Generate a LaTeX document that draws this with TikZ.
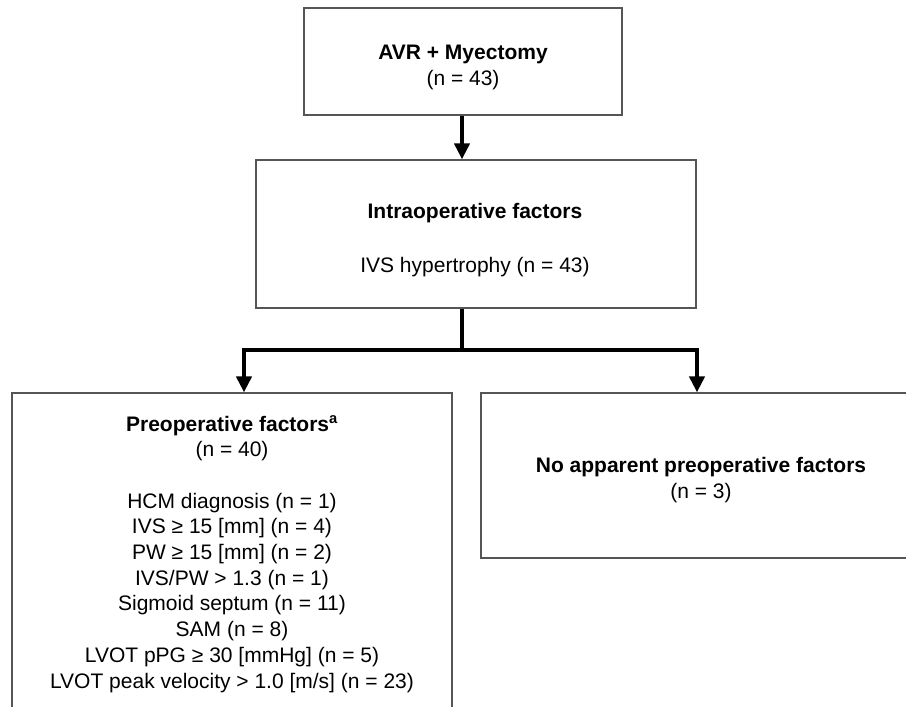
\documentclass[tikz,border=0pt]{standalone}
\usepackage{fontspec}
\setmainfont{Liberation Sans}
\usetikzlibrary{arrows.meta}
\definecolor{boxgray}{RGB}{85,85,85}
\begin{document}
\begin{tikzpicture}[x=1pt,y=-1pt,
  box/.style={draw=boxgray, line width=1.2pt, inner sep=0pt, rectangle},
  txt/.style={font=\fontsize{21}{25.7}\selectfont, align=center, anchor=base, inner sep=0pt, text=black},
  conn/.style={line width=4.5pt, line join=miter, -{Triangle[width=15pt,length=16pt]}},
  trunkline/.style={line width=4.5pt}]
\useasboundingbox (0,0) rectangle (906,707);
\clip (0,0) rectangle (906,707);
\fill[white] (0,0) rectangle (906,707);
% boxes
\node[box, minimum width=318pt, minimum height=107pt] (top) at (463,61.5) {};
\node[box, minimum width=440pt, minimum height=148pt] (mid) at (476,234) {};
\node[box, minimum width=440pt, minimum height=340pt] (left) at (232,563) {};
\node[box, minimum width=440pt, minimum height=165pt] (right) at (701,475.5) {};
% texts (anchor = baseline of the last line)
\node[txt] (toptxt) at (463,85) {\textbf{AVR + Myectomy}\\(n = 43)};
\node[txt] (midtxt1) at (475,218) {\textbf{Intraoperative factors}};
\node[txt] (midtxt2) at (475,272) {IVS hypertrophy (n = 43)};
\node[txt] (pretxt) at (232,688) {\textbf{Preoperative factors\textsuperscript{a}}\\(n = 40)\\[25.7pt]
HCM diagnosis (n = 1)\\IVS ≥ 15 [mm] (n = 4)\\PW ≥ 15 [mm] (n = 2)\\IVS/PW > 1.3 (n = 1)\\
Sigmoid septum (n = 11)\\SAM (n = 8)\\LVOT pPG ≥ 30 [mmHg] (n = 5)\\LVOT peak velocity > 1.0 [m/s] (n = 23)};
\node[txt] (notxt) at (701,498) {\textbf{No apparent preoperative factors}\\(n = 3)};
% connectors
\coordinate (j) at (462,350);
\coordinate (jl) at (244,350);
\coordinate (jr) at (697,350);
\draw[conn] (top.south -| j) -- (j |- mid.north);
\draw[trunkline] (j |- mid.south) -- (j);
\draw[conn] (j) -| (jl |- left.north);
\draw[conn] (j) -| (jr |- right.north);
\end{tikzpicture}
\end{document}
